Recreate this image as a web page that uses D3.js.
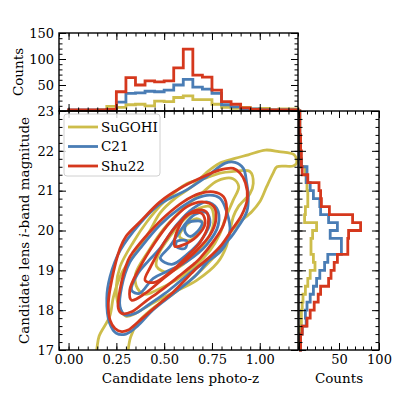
<!DOCTYPE html>
<html>
<head>
<meta charset="utf-8">
<script src="https://cdn.jsdelivr.net/npm/d3@7"></script>
<style>
  body { margin: 0; background: #fff; }
  text { font-family: "DejaVu Serif", "Liberation Serif", serif; fill: #000; }
</style>
</head>
<body>
<svg id="chart" width="399" height="399"></svg>
<script>
// survey names and colours
const surveys = ['SuGOHI', 'C21', 'Shu22']
const colors = ['#cdbd4b', '#4a7db5', '#d5381d']

// photo-z histogram (bins of 0.05 from 0 to 1.2)
const zEdges = d3.range(0, 1.2001, 0.05)
const zCountsSuGOHI = [1, 1, 1, 2, 9, 7, 12, 13, 10, 19, 18, 26, 29, 22, 22, 13, 7, 5, 7, 4, 5, 2, 4, 4]
const zCountsC21 = [2, 2, 2, 2, 3, 17, 34, 35, 38, 37, 40, 50, 61, 46, 42, 34, 12, 8, 4, 4, 2, 2, 2, 2]
const zCountsShu22 = [2, 2, 2, 2, 3, 37, 64, 50, 58, 56, 58, 83, 119, 69, 65, 40, 18, 13, 6, 3, 2, 2, 2, 2]

// i-band magnitude histogram (bins of 0.2 from 17 to 23)
const magEdges = d3.range(17, 23.0001, 0.2)
const magCountsSuGOHI = [1, 2, 2, 3, 3, 4, 5, 8, 11, 14, 20, 18, 15, 15, 17, 22, 7, 8, 11, 11, 10, 9, 8, 3, 2, 1, 1, 1, 1, 1]
const magCountsC21 = [2, 2, 4, 9, 8, 10, 14, 18, 22, 26, 32, 36, 53, 53, 39, 48, 37, 27, 26, 18, 14, 9, 10, 3, 2, 2, 2, 1, 1, 1]
const magCountsShu22 = [2, 2, 4, 10, 14, 19, 24, 27, 37, 40, 44, 48, 61, 61, 62, 77, 67, 38, 28, 27, 25, 11, 4, 3, 3, 2, 2, 1, 1, 1]

// density contours, points as [photo-z, magnitude]
const contoursSuGOHI = [
  [[0.13, 16.6], [0.147, 17.0], [0.16, 17.35], [0.215, 17.84], [0.235, 18.34], [0.278, 18.93], [0.35, 19.43], [0.42, 19.95], [0.48, 20.45], [0.56, 20.82], [0.645, 21.1], [0.72, 21.45], [0.79, 21.69], [0.87, 21.81], [0.94, 21.9], [1.03, 22.02], [1.1, 21.98], [1.18, 21.9], [1.193, 21.7], [1.175, 21.62], [1.09, 21.6], [1.07, 21.44], [1.036, 21.1], [1.0, 20.72], [0.958, 20.47], [0.888, 20.18], [0.844, 19.93], [0.815, 19.62], [0.75, 19.28], [0.66, 18.85], [0.56, 18.45], [0.47, 18.15], [0.41, 17.92], [0.36, 17.67], [0.325, 17.33], [0.312, 17.0], [0.31, 16.6]],
  [[0.26, 18.15], [0.25, 18.6], [0.27, 19.1], [0.34, 19.72], [0.41, 20.22], [0.5, 20.72], [0.62, 21.18], [0.72, 21.32], [0.792, 21.44], [0.853, 21.48], [0.949, 21.48], [0.966, 21.18], [0.949, 20.93], [0.888, 20.6], [0.862, 20.35], [0.845, 20.0], [0.825, 19.6], [0.78, 19.2], [0.67, 18.75], [0.55, 18.45], [0.43, 18.15], [0.35, 17.92], [0.3, 17.85]],
  [[0.36, 18.55], [0.35, 18.9], [0.42, 19.5], [0.5, 20.05], [0.6, 20.55], [0.7, 20.95], [0.78, 21.25], [0.86, 21.3], [0.89, 21.1], [0.86, 20.75], [0.82, 20.3], [0.79, 19.9], [0.74, 19.5], [0.66, 19.1], [0.56, 18.75], [0.46, 18.5], [0.4, 18.4]],
  [[0.46, 19.1], [0.47, 19.4], [0.53, 19.85], [0.6, 20.25], [0.68, 20.55], [0.74, 20.6], [0.76, 20.3], [0.74, 19.9], [0.68, 19.5], [0.6, 19.15], [0.52, 18.95]],
  [[0.58, 19.85], [0.62, 20.15], [0.67, 20.3], [0.7, 20.2], [0.68, 19.95], [0.63, 19.75]]
]
const contoursC21 = [
  [[0.3, 17.4], [0.25, 17.42], [0.215, 17.67], [0.2, 18.3], [0.217, 18.84], [0.27, 19.5], [0.374, 20.18], [0.461, 20.6], [0.531, 20.81], [0.618, 21.02], [0.722, 21.35], [0.82, 21.69], [0.87, 21.71], [0.914, 21.56], [0.932, 21.18], [0.94, 20.85], [0.932, 20.47], [0.888, 20.1], [0.844, 19.8], [0.76, 19.4], [0.661, 18.85], [0.55, 18.42], [0.44, 18.0], [0.36, 17.6]],
  [[0.295, 17.88], [0.269, 18.09], [0.278, 18.59], [0.32, 19.2], [0.374, 19.55], [0.478, 20.14], [0.583, 20.56], [0.67, 20.81], [0.74, 20.89], [0.792, 20.81], [0.827, 20.47], [0.844, 19.97], [0.8, 19.5], [0.75, 19.3], [0.679, 19.09], [0.592, 18.76], [0.504, 18.42], [0.417, 18.13], [0.348, 17.92]],
  [[0.33, 18.5], [0.36, 18.9], [0.42, 19.25], [0.478, 19.55], [0.565, 20.14], [0.653, 20.56], [0.722, 20.72], [0.775, 20.56], [0.783, 20.14], [0.722, 19.64], [0.618, 19.22], [0.513, 18.97], [0.443, 18.8], [0.37, 18.42]],
  [[0.48, 19.3], [0.53, 19.6], [0.6, 20.1], [0.66, 20.4], [0.72, 20.45], [0.74, 20.2], [0.7, 19.8], [0.62, 19.4], [0.54, 19.15]],
  [[0.618, 20.18], [0.696, 20.22], [0.687, 20.05], [0.635, 19.85], [0.609, 19.97]],
  [[0.565, 19.72], [0.618, 19.74], [0.609, 19.55], [0.565, 19.59]]
]
const contoursShu22 = [
  [[0.278, 17.46], [0.243, 17.54], [0.217, 17.75], [0.208, 18.17], [0.226, 18.76], [0.269, 19.55], [0.3, 19.85], [0.374, 20.22], [0.478, 20.72], [0.583, 21.06], [0.687, 21.31], [0.792, 21.52], [0.862, 21.56], [0.897, 21.44], [0.925, 21.2], [0.935, 20.8], [0.906, 20.39], [0.853, 20.01], [0.8, 19.64], [0.73, 19.3], [0.687, 19.13], [0.644, 18.93], [0.592, 18.67], [0.539, 18.42], [0.487, 18.21], [0.435, 18.0], [0.365, 17.71], [0.312, 17.5]],
  [[0.278, 17.92], [0.26, 18.05], [0.269, 18.51], [0.312, 19.26], [0.339, 19.47], [0.426, 19.97], [0.513, 20.39], [0.6, 20.72], [0.687, 20.93], [0.757, 20.97], [0.81, 20.85], [0.827, 20.56], [0.81, 20.14], [0.757, 19.72], [0.687, 19.3], [0.661, 19.18], [0.574, 18.84], [0.487, 18.51], [0.4, 18.21], [0.33, 17.96]],
  [[0.33, 18.25], [0.32, 18.5], [0.37, 19.05], [0.452, 19.7], [0.53, 20.2], [0.62, 20.6], [0.7, 20.72], [0.76, 20.6], [0.77, 20.25], [0.74, 19.89], [0.67, 19.5], [0.574, 19.09], [0.487, 18.76], [0.4, 18.42]],
  [[0.4, 18.75], [0.43, 19.1], [0.5, 19.7], [0.58, 20.2], [0.66, 20.5], [0.72, 20.47], [0.73, 20.14], [0.69, 19.72], [0.62, 19.35], [0.53, 18.95], [0.45, 18.7]],
  [[0.556, 19.6], [0.556, 19.8], [0.583, 20.14], [0.618, 20.39], [0.696, 20.43], [0.714, 20.18], [0.67, 19.85], [0.6, 19.64]]
]

const zCounts = [zCountsSuGOHI, zCountsC21, zCountsShu22]
const magCounts = [magCountsSuGOHI, magCountsC21, magCountsShu22]
const contours = [contoursSuGOHI, contoursC21, contoursShu22]

// tick labels
const zTicks = [0, 0.25, 0.5, 0.75, 1.0]
const magTicks = [17, 18, 19, 20, 21, 22, 23]
const countTicksTop = [0, 50, 100, 150]
const countTicksRight = [0, 50, 100]

const FONT = '"DejaVu Serif", "Liberation Serif", serif'
const LW = 2.8

const svg = d3.select('#chart')
const main = { left: 59, right: 298, top: 111, bottom: 350 }
const topBox = { left: 59, right: 298, top: 33, bottom: 111 }
const rightBox = { left: 299, right: 379, top: 111, bottom: 350 }

const x = d3.scaleLinear([-0.05, 1.2], [main.left, main.right])
const y = d3.scaleLinear([17, 23], [main.bottom, main.top])
const yCount = d3.scaleLinear([0, 150], [topBox.bottom, topBox.top])
const xCount = d3.scaleLinear([0, 100], [rightBox.left, rightBox.right])

svg.append('rect').attr('width', 399).attr('height', 399).attr('fill', '#fff')

// contours
svg.append('clipPath').attr('id', 'clipMain')
  .append('rect')
  .attr('x', main.left).attr('y', main.top)
  .attr('width', main.right - main.left).attr('height', main.bottom - main.top)

const contourLine = d3.line()
  .x(d => x(d[0]))
  .y(d => y(d[1]))
  .curve(d3.curveCatmullRomClosed.alpha(0.5))

const cg = svg.append('g').attr('clip-path', 'url(#clipMain)')
contours.forEach((set, i) => {
  cg.selectAll(null)
    .data(set)
    .enter()
    .append('path')
    .attr('d', contourLine)
    .attr('fill', 'none')
    .attr('stroke', colors[i])
    .attr('stroke-width', LW)
    .attr('stroke-linejoin', 'round')
})

// step histograms
function stepPoints(edges, counts) {
  const pts = [[edges[0], 0]]
  counts.forEach((c, k) => {
    pts.push([edges[k], c])
    pts.push([edges[k + 1], c])
  })
  pts.push([edges[edges.length - 1], 0])
  return pts
}

zCounts.forEach((counts, i) => {
  svg.append('path')
    .datum(stepPoints(zEdges, counts))
    .attr('d', d3.line().x(d => x(d[0])).y(d => yCount(d[1])))
    .attr('fill', 'none')
    .attr('stroke', colors[i])
    .attr('stroke-width', LW)
})

magCounts.forEach((counts, i) => {
  svg.append('path')
    .datum(stepPoints(magEdges, counts))
    .attr('d', d3.line().x(d => xCount(d[1])).y(d => y(d[0])))
    .attr('fill', 'none')
    .attr('stroke', colors[i])
    .attr('stroke-width', LW)
})

// axes: inward ticks on every side
const axisMakers = { bottom: d3.axisBottom, top: d3.axisTop, left: d3.axisLeft, right: d3.axisRight }

function addAxis(orient, scale, pos, majors, minors, fmt) {
  const tr = orient === 'bottom' || orient === 'top'
    ? `translate(0,${pos})` : `translate(${pos},0)`
  svg.append('g')
    .attr('transform', tr)
    .call(axisMakers[orient](scale).tickValues(minors).tickSize(-3.5).tickSizeOuter(0).tickFormat(''))
    .call(g => g.select('.domain').remove())
  const g = svg.append('g')
    .attr('transform', tr)
    .attr('font-family', FONT)
    .call(axisMakers[orient](scale).tickValues(majors).tickSize(-7).tickSizeOuter(0)
      .tickPadding(5).tickFormat(fmt || (() => '')))
  g.attr('font-family', FONT)
  g.select('.domain').remove()
  g.selectAll('text')
    .style('font-family', FONT)
    .style('font-size', '13px')
    .attr('fill', '#000')
  svg.selectAll('.tick line').attr('stroke', '#000').attr('stroke-width', 1)
}

const zMinor = d3.range(-0.05, 1.2001, 0.05)
const magMinor = d3.range(17, 23.0001, 0.2)
const countMinor = d3.range(0, 150.001, 10)

addAxis('bottom', x, main.bottom, zTicks, zMinor, d3.format('.2f'))
addAxis('top', x, main.top, zTicks, zMinor)
addAxis('left', y, main.left, magTicks, magMinor, d3.format('d'))
addAxis('right', y, main.right, magTicks, magMinor)

addAxis('bottom', x, topBox.bottom, zTicks, zMinor)
addAxis('top', x, topBox.top, zTicks, zMinor)
addAxis('left', yCount, topBox.left, countTicksTop, countMinor, d => d === 0 ? '' : d)
addAxis('right', yCount, topBox.right, countTicksTop, countMinor)

addAxis('left', y, rightBox.left, magTicks, magMinor)
addAxis('right', y, rightBox.right, magTicks, magMinor)
addAxis('bottom', xCount, rightBox.bottom, countTicksRight, countMinor.filter(v => v <= 100), d => d === 0 ? '' : d)
addAxis('top', xCount, rightBox.top, countTicksRight, countMinor.filter(v => v <= 100))

// spines
;[main, topBox, rightBox].forEach(b => {
  svg.append('rect')
    .attr('x', b.left).attr('y', b.top)
    .attr('width', b.right - b.left).attr('height', b.bottom - b.top)
    .attr('fill', 'none').attr('stroke', '#000').attr('stroke-width', 1.4)
})

// axis labels
svg.append('text')
  .attr('x', (main.left + main.right) / 2 + 2).attr('y', 383)
  .attr('text-anchor', 'middle').style('font-size', '13.5px')
  .text('Candidate lens photo-z')

svg.append('text')
  .attr('x', (rightBox.left + rightBox.right) / 2).attr('y', 383)
  .attr('text-anchor', 'middle').style('font-size', '13.5px')
  .text('Counts')

svg.append('text')
  .attr('transform', `translate(23,${(topBox.top + topBox.bottom) / 2}) rotate(-90)`)
  .attr('text-anchor', 'middle').style('font-size', '13.5px')
  .text('Counts')

const yl = svg.append('text')
  .attr('transform', `translate(29,${(main.top + main.bottom) / 2}) rotate(-90)`)
  .attr('text-anchor', 'middle').style('font-size', '13.5px')
yl.append('tspan').text('Candidate lens ')
yl.append('tspan').attr('font-style', 'italic').text('i')
yl.append('tspan').text('-band magnitude')

// legend
const legend = svg.append('g').attr('transform', 'translate(64,114)')
legend.append('rect')
  .attr('width', 96).attr('height', 62).attr('rx', 3)
  .attr('fill', '#fff').attr('fill-opacity', 0.8)
  .attr('stroke', '#d0d0d0').attr('stroke-width', 1)
surveys.forEach((name, i) => {
  const row = legend.append('g').attr('transform', `translate(0,${13 + i * 19.5})`)
  row.append('line')
    .attr('x1', 4).attr('x2', 34)
    .attr('stroke', colors[i]).attr('stroke-width', LW)
  row.append('text')
    .attr('x', 37).attr('dy', '0.35em')
    .style('font-size', '13.5px')
    .text(name)
})
</script>
</body>
</html>
